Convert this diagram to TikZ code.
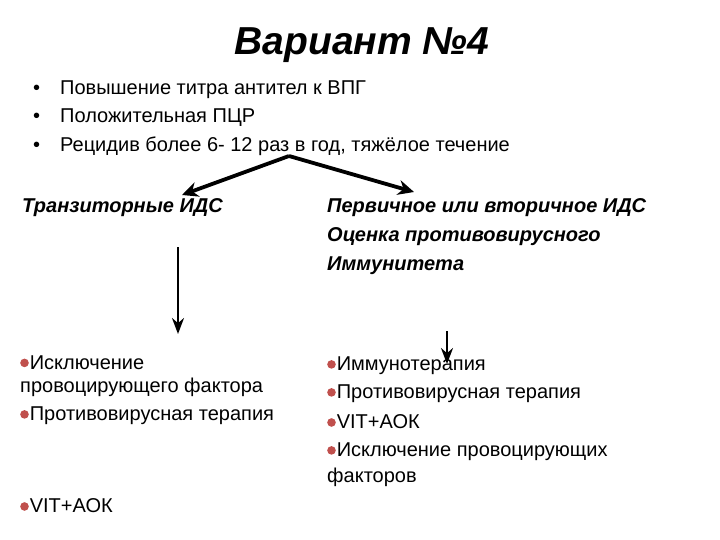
\documentclass[tikz,border=0pt]{standalone}
\usepackage{fontspec}
\setmainfont{Liberation Sans}
\usetikzlibrary{arrows.meta}
\definecolor{bulred}{RGB}{192,80,77}
\newcommand\rdot{{\color{bulred}\raisebox{0.2ex}{\tikz\fill (0,0) circle (4.3pt);}}\hspace{1pt}}

\begin{document}
\begin{tikzpicture}[x=1pt,y=-1pt,
	txt/.style={anchor=west,inner sep=0pt,align=left,font=\fontsize{20}{23}\selectfont},
	bold/.style={anchor=west,inner sep=0pt,align=left,font=\fontsize{20}{29}\selectfont\bfseries\itshape},
	arr/.style={-{Stealth[length=16pt,width=15pt]},line width=3.8pt},
	varr/.style={-{Stealth[length=16pt,width=12pt]},line width=2.4pt}]
		%%%%% START %%%%%
		\useasboundingbox (0,0) rectangle (720,540);
		
		\node[font=\fontsize{39}{39}\selectfont\bfseries\itshape] (title) at (362,45) {Вариант №4};
		
		\node[txt] (sign1) at (33,90) {\makebox[27pt][l]{•}Повышение титра антител к ВПГ};
		\node[txt] (sign2) at (33,118) {\makebox[27pt][l]{•}Положительная ПЦР};
		\node[txt] (sign3) at (33,146) {\makebox[27pt][l]{•}Рецидив более 6- 12 раз в год, тяжёлое течение};
		
		\node[bold] (trans) at (22,208) {Транзиторные ИДС};
		\node[bold] (prim) at (327,237) {Первичное или вторичное ИДС\\Оценка противовирусного\\Иммунитета};
		
		\node[txt] (left1) at (20,376) {\rdot Исключение\\провоцирующего фактора};
		\node[txt] (left2) at (20,416) {\rdot Противовирусная терапия};
		\node[txt] (left3) at (20,506) {\rdot VIT+АОК};
		
		\node[txt] (right1) at (327,366) {\rdot Иммунотерапия};
		\node[txt] (right2) at (327,394) {\rdot Противовирусная терапия};
		\node[txt] (right3) at (327,422) {\rdot VIT+АОК};
		\node[txt,font=\fontsize{20}{26}\selectfont] (right4) at (327,465) {\rdot Исключение провоцирующих\\факторов};
		
		\coordinate (fork) at (289,156);
		\coordinate (tipL) at (182,195);
		\coordinate (tipR) at (414,192);
		\draw[arr] (fork) -- (tipL);
		\draw[arr] (fork) -- (tipR);
		
		\coordinate (downL) at (178,247);
		\coordinate (endL) at (178,334);
		\draw[varr] (downL) -- (endL);
		
		\coordinate (downR) at (447,331);
		\coordinate (endR) at (447,364);
		\draw[varr] (downR) -- (endR);
		%%%%% END %%%%%
\end{tikzpicture}
\end{document}
